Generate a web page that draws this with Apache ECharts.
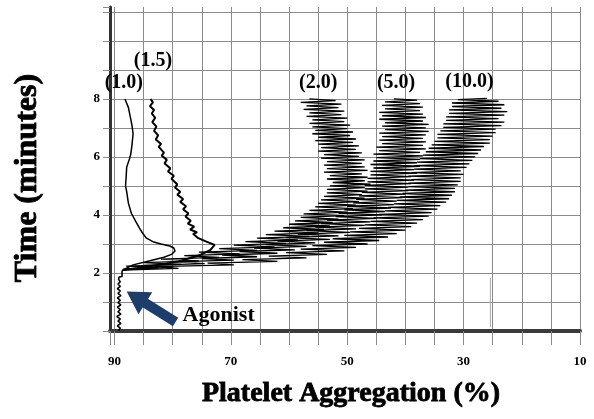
<!DOCTYPE html>
<html>
<head>
<meta charset="utf-8">
<script src="https://cdn.jsdelivr.net/npm/echarts@6/dist/echarts.min.js"></script>
<style>
html,body{margin:0;padding:0;background:#fff;}
#chart{width:594px;height:419px;}
</style>
</head>
<body>
<div id="chart"></div>
<script>
// ---- Data (x = platelet aggregation %, y = time in minutes) ----
const aggTickLabels = [90, 70, 50, 30, 10];
const timeTickLabels = [2, 4, 6, 8];

// pre-agonist baseline trace (0 - 2 min)
const baselineTrace = [
  [89.3,0.02],[89.0,0.1],[89.5,0.18],[88.9,0.26],[89.4,0.34],[89.0,0.42],[89.6,0.5],[88.9,0.58],
  [89.4,0.66],[89.0,0.74],[89.5,0.82],[88.9,0.9],[89.4,0.98],[89.0,1.06],[89.5,1.14],[88.9,1.22],
  [89.4,1.3],[89.0,1.38],[89.5,1.46],[89.0,1.54],[89.4,1.62],[89.0,1.7],[89.3,1.78],[89.2,1.86],
  [88.7,1.88],[88.7,2.05],[88.6,2.1]
];

// agonist 1.0
const trace10 = [
  [88.6,2.1],[86.8,2.28],[83.9,2.42],[81.5,2.54],[80.2,2.64],[79.6,2.76],[79.8,2.86],[80.5,2.93],
  [82.0,3.0],[83.4,3.08],[84.5,3.2],[85.1,3.35],[85.7,3.55],[86.4,3.8],[87.1,4.06],[87.6,4.4],
  [87.9,4.8],[88.1,5.0],[88.0,5.3],[87.9,5.65],[87.4,5.95],[87.2,6.1],[87.0,6.4],[86.8,6.8],
  [87.0,7.1],[87.3,7.4],[87.6,7.7],[88.2,8.0]
];

// agonist 1.5
const trace15 = [
  [88.6,2.1],[84.0,2.22],[79.0,2.4],[75.5,2.6],[73.5,2.8],[72.8,2.97],[74.2,3.08],[75.6,3.2],
  [76.5,3.35],[75.8,3.4],[77.0,3.5],[76.3,3.6],[77.4,3.7],[76.9,3.8],[77.8,3.95],[77.3,4.05],
  [78.2,4.2],[77.7,4.3],[78.7,4.45],[78.2,4.55],[79.2,4.7],[78.7,4.8],[79.6,4.95],[79.2,5.05],
  [80.2,5.25],[79.8,5.35],[80.8,5.5],[80.4,5.6],[81.4,5.78],[81.0,5.9],[81.9,6.05],[81.5,6.15],
  [82.4,6.35],[82.0,6.45],[82.9,6.6],[82.5,6.75],[83.2,6.9],[82.8,7.05],[83.5,7.2],[83.0,7.35],
  [83.6,7.5],[83.2,7.62],[83.9,7.75],[83.4,7.88],[83.8,8.0]
];

// agonist 2.0
const trace20 = [
  [88.5,2.12],[82.5,2.18],[88.0,2.24],[78.5,2.30],[85.0,2.36],[75.5,2.42],[82.0,2.48],[72.0,2.54],
  [78.0,2.60],[68.5,2.66],[75.5,2.72],[65.5,2.78],[72.0,2.84],[62.5,2.90],[69.5,2.96],[60.5,3.02],
  [67.5,3.08],[58.5,3.14],[65.5,3.20],[56.5,3.26],[64.0,3.32],[55.0,3.38],[62.5,3.44],[54.0,3.50],
  [61.0,3.56],[53.0,3.62],[60.0,3.68],[52.5,3.74],[59.0,3.80],[51.5,3.86],[58.0,3.92],[50.5,3.98],
  [57.5,4.04],[50.0,4.10],[56.5,4.16],[49.0,4.22],[55.5,4.28],[48.5,4.34],[55.0,4.40],[48.0,4.46],
  [54.5,4.52],[47.0,4.58],[54.0,4.64],[47.5,4.70],[53.5,4.76],[46.5,4.82],[53.5,4.88],[47.0,4.94],
  [53.0,5.00],[46.0,5.06],[52.5,5.12],[47.0,5.18],[53.5,5.24],[46.5,5.30],[53.0,5.36],[47.5,5.42],
  [54.0,5.48],[46.5,5.54],[53.5,5.60],[47.0,5.66],[54.0,5.72],[47.5,5.78],[53.5,5.84],[47.0,5.90],
  [54.5,5.96],[48.0,6.02],[54.0,6.08],[47.5,6.14],[55.0,6.20],[48.5,6.26],[54.5,6.32],[48.0,6.38],
  [55.0,6.44],[49.0,6.50],[55.5,6.56],[48.5,6.62],[55.0,6.68],[49.5,6.74],[56.0,6.80],[49.0,6.86],
  [55.5,6.92],[50.0,6.98],[56.0,7.04],[49.5,7.10],[56.5,7.16],[50.5,7.22],[56.0,7.28],[50.0,7.34],
  [57.0,7.40],[51.0,7.46],[56.5,7.52],[50.5,7.58],[57.5,7.64],[51.5,7.70],[57.0,7.76],[51.0,7.82],
  [58.0,7.88],[52.0,7.94],[56.5,8.00]
];

// agonist 5.0
const trace50 = [
  [88.5,2.12],[80.0,2.20],[85.0,2.26],[74.5,2.32],[80.0,2.38],[69.5,2.44],[75.0,2.50],[65.5,2.56],
  [71.5,2.62],[62.0,2.68],[68.5,2.74],[59.0,2.80],[66.0,2.86],[57.0,2.92],[64.0,2.98],[55.5,3.04],
  [62.0,3.10],[53.0,3.16],[60.5,3.22],[51.5,3.28],[58.5,3.34],[49.5,3.40],[57.0,3.46],[48.5,3.52],
  [55.5,3.58],[47.0,3.64],[54.5,3.70],[46.0,3.76],[53.5,3.82],[45.0,3.88],[52.0,3.94],[44.0,4.00],
  [51.5,4.06],[43.5,4.12],[50.5,4.18],[42.5,4.24],[50.0,4.30],[42.0,4.36],[49.0,4.42],[41.5,4.48],
  [48.5,4.54],[40.5,4.60],[48.0,4.66],[40.0,4.72],[47.5,4.78],[39.5,4.84],[47.0,4.90],[39.5,4.96],
  [47.0,5.02],[39.0,5.08],[46.5,5.14],[38.5,5.20],[46.5,5.26],[39.0,5.32],[46.0,5.38],[38.0,5.44],
  [46.0,5.50],[38.5,5.56],[45.5,5.62],[37.5,5.68],[46.0,5.74],[38.0,5.80],[45.5,5.86],[37.5,5.92],
  [45.0,5.98],[37.0,6.04],[45.5,6.10],[37.5,6.16],[44.5,6.22],[36.5,6.28],[45.0,6.34],[37.0,6.40],
  [44.0,6.46],[36.5,6.52],[44.5,6.58],[37.0,6.64],[44.0,6.70],[36.5,6.76],[44.5,6.82],[36.0,6.88],
  [43.5,6.94],[36.5,7.00],[44.0,7.06],[36.0,7.12],[43.5,7.18],[37.0,7.24],[44.5,7.30],[36.5,7.36],
  [44.0,7.42],[37.0,7.48],[44.5,7.54],[37.5,7.60],[43.5,7.66],[37.0,7.72],[44.0,7.78],[37.5,7.84],
  [43.5,7.90],[38.0,7.96],[42.0,8.00]
];

// agonist 10.0
const trace100 = [
  [88.5,2.10],[79.0,2.16],[83.0,2.22],[69.5,2.28],[74.0,2.34],[62.0,2.40],[68.0,2.46],[57.0,2.52],
  [63.5,2.58],[53.5,2.64],[60.5,2.70],[50.5,2.76],[58.0,2.82],[48.5,2.88],[56.0,2.94],[46.5,3.00],
  [54.0,3.06],[44.5,3.12],[52.5,3.18],[43.0,3.24],[50.5,3.30],[41.5,3.36],[49.5,3.42],[40.0,3.48],
  [48.0,3.54],[39.0,3.60],[47.0,3.66],[38.0,3.72],[46.0,3.78],[37.0,3.84],[45.5,3.90],[36.0,3.96],
  [44.5,4.02],[35.5,4.08],[43.5,4.14],[34.5,4.20],[43.0,4.26],[34.0,4.32],[42.0,4.38],[33.0,4.44],
  [41.5,4.50],[32.5,4.56],[41.0,4.62],[32.0,4.68],[40.5,4.74],[31.5,4.80],[40.0,4.86],[31.5,4.92],
  [39.5,4.98],[31.0,5.04],[39.5,5.10],[30.5,5.16],[39.0,5.22],[30.5,5.28],[39.5,5.34],[30.0,5.40],
  [39.0,5.46],[30.5,5.52],[38.5,5.58],[29.5,5.64],[38.5,5.70],[29.0,5.76],[38.0,5.82],[28.5,5.88],
  [37.5,5.94],[28.0,6.00],[37.0,6.06],[27.5,6.12],[36.5,6.18],[27.0,6.24],[36.0,6.30],[26.5,6.36],
  [35.5,6.42],[25.5,6.48],[35.0,6.54],[25.5,6.60],[34.5,6.66],[25.0,6.72],[34.5,6.78],[24.5,6.84],
  [34.0,6.90],[24.5,6.96],[33.5,7.02],[23.5,7.08],[33.5,7.14],[23.0,7.20],[33.0,7.26],[24.0,7.32],
  [33.0,7.38],[23.0,7.44],[32.5,7.50],[22.5,7.56],[32.5,7.62],[23.5,7.68],[32.0,7.74],[23.0,7.80],
  [32.0,7.86],[24.0,7.92],[31.0,7.98],[26.0,8.02]
];

// stray vertical mark on the recording
const strayMark = [[25.4,0.14],[25.4,1.83]];

// curve labels
const curveLabels = ['(1.0)', '(1.5)', '(2.0)', '(5.0)', '(10.0)'];
const curveLabelAgg = [88.4, 83.4, 55.0, 41.6, 29.0];
const curveLabelTime = [8.55, 9.31, 8.55, 8.55, 8.59];

// agonist annotation
const agonistText = 'Agonist';
const agonistTextPos = [72.1, 0.55];
const agonistArrow = [[79.5, 0.31], [86.3, 1.16]];

// ---- Chart ----
const serif = "'Liberation Serif', 'Times New Roman', serif";
const chart = echarts.init(document.getElementById('chart'), null, {renderer: 'canvas'});

function traceSeries(name, data, width) {
  return {
    name: name, type: 'line', data: data, showSymbol: false, symbol: 'none',
    lineStyle: {color: '#000', width: width}, silent: true, z: 3, animation: false
  };
}

const textLabel = (size) => ({
  show: true, position: 'inside', formatter: '{b}', fontFamily: serif,
  fontWeight: 'bold', fontSize: size, color: '#000', opacity: 1,
  textBorderWidth: 0, textBorderColor: 'transparent', textShadowBlur: 0
});

const option = {
  animation: false,
  backgroundColor: '#fff',
  grid: {left: 110, right: 14, top: 7, bottom: 88, outerBoundsMode: 'none', containLabel: false},
  xAxis: {
    type: 'value', inverse: true, min: 10, max: 90.77, interval: 5,
    name: 'Platelet Aggregation (%)', nameLocation: 'middle', nameGap: 49,
    nameTextStyle: {fontFamily: serif, fontWeight: 'bold', fontSize: 28, color: '#000',
      textBorderColor: '#000', textBorderWidth: 0.8, padding: [0, 0, 0, 12]},
    axisLine: {show: true, onZero: false, lineStyle: {color: '#3a3a3a', width: 4}},
    axisTick: {show: true, length: 14, lineStyle: {color: '#8a8a8a', width: 1}},
    axisLabel: {
      margin: 24, fontFamily: serif, fontWeight: 'bold', fontSize: 13, color: '#000',
      formatter: v => aggTickLabels.includes(v) ? String(v) : ''
    },
    splitLine: {show: true, lineStyle: {color: '#8a8a8a', width: 1}}
  },
  yAxis: {
    type: 'value', min: 0, max: 11.17, interval: 1,
    name: 'Time (minutes)', nameLocation: 'middle', nameGap: 66, nameRotate: 90,
    nameTextStyle: {fontFamily: serif, fontWeight: 'bold', fontSize: 32, color: '#000',
      textBorderColor: '#000', textBorderWidth: 0.8, padding: [0, 18, 0, 0]},
    axisLine: {show: true, onZero: false, lineStyle: {color: '#333', width: 3}},
    axisTick: {show: true, length: 7, lineStyle: {color: '#8a8a8a', width: 1}},
    axisLabel: {
      margin: 10, fontFamily: serif, fontWeight: 'bold', fontSize: 13, color: '#000',
      formatter: v => timeTickLabels.includes(v) ? String(v) : ''
    },
    splitLine: {show: true, showMaxLine: false, lineStyle: {color: '#8a8a8a', width: 1}}
  },
  series: [
    {
      name: 'stray', type: 'line', data: strayMark, showSymbol: false, symbol: 'none',
      lineStyle: {color: '#aaa', width: 1}, silent: true, z: 2
    },
    traceSeries('baseline', baselineTrace, 1.6),
    traceSeries('1.0', trace10, 1.5),
    traceSeries('1.5', trace15, 2),
    traceSeries('2.0', trace20, 1.3),
    traceSeries('5.0', trace50, 1.3),
    traceSeries('10.0', trace100, 1.3),
    {
      name: 'curveLabels', type: 'scatter', symbolSize: 0, silent: true, z: 5,
      itemStyle: {color: '#000', opacity: 1},
      data: curveLabels.map((n, i) => ({name: n, value: [curveLabelAgg[i], curveLabelTime[i]]})),
      label: textLabel(20)
    },
    {
      name: 'agonist', type: 'scatter', symbolSize: 0, silent: true, z: 5,
      itemStyle: {color: '#000', opacity: 1},
      data: [{name: agonistText, value: agonistTextPos}],
      label: textLabel(22),
      markLine: {
        silent: true, animation: false,
        symbol: ['none', 'triangle'], symbolSize: [26, 22],
        label: {show: false},
        lineStyle: {color: '#1d3d6b', width: 10, type: 'solid', opacity: 1},
        itemStyle: {color: '#1d3d6b', opacity: 1},
        emphasis: {disabled: true},
        data: [[{coord: agonistArrow[0]}, {coord: agonistArrow[1]}]]
      }
    }
  ]
};
chart.setOption(option);
</script>
</body>
</html>
